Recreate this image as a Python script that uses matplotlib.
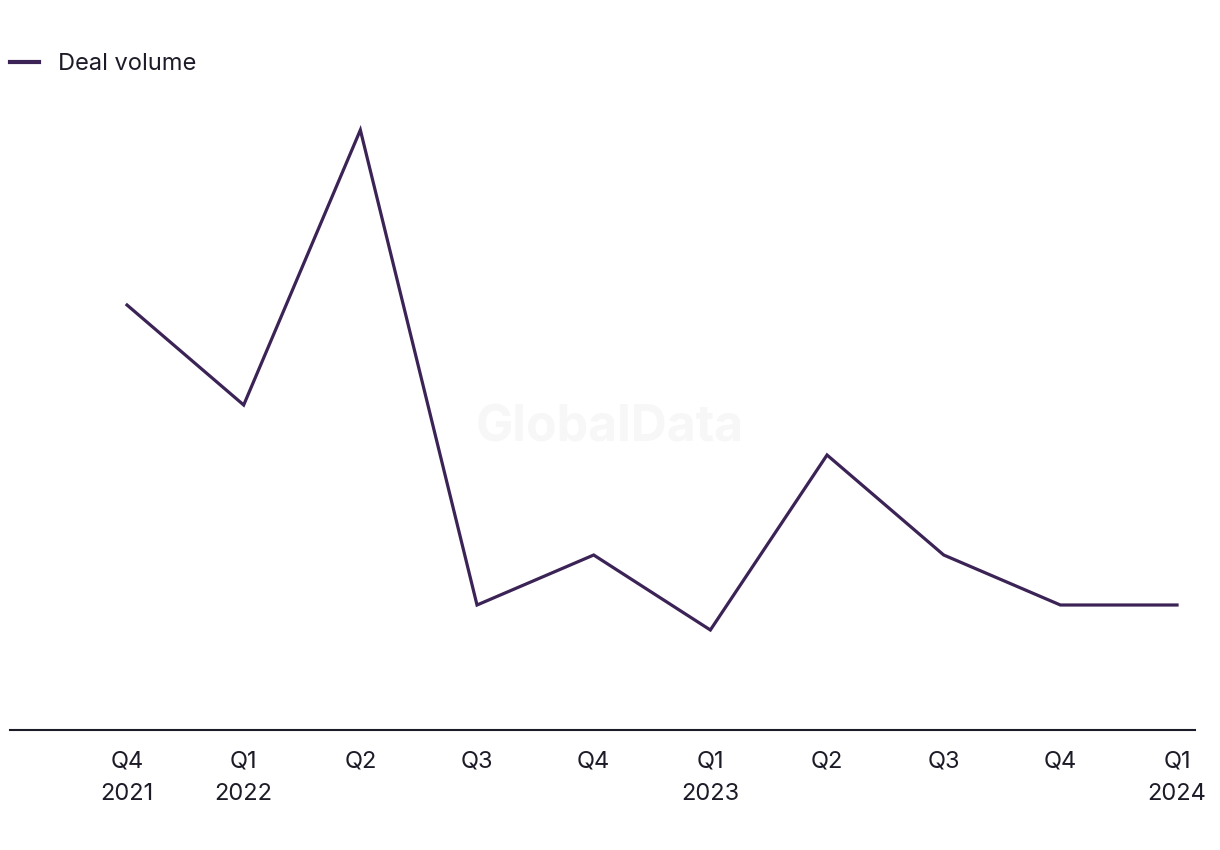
import matplotlib.pyplot as plt

quarters = ["Q4", "Q1", "Q2", "Q3", "Q4", "Q1", "Q2", "Q3", "Q4", "Q1"]
years = ["2021", "2022", "", "", "", "2023", "", "", "", "2024"]
deal_volume = [17, 13, 24, 5, 7, 4, 11, 7, 5, 5]

LINE_COLOR = "#3b2356"
TEXT_COLOR = "#1c1c28"


def main():
    plt.rcParams["font.family"] = ["Inter", "DejaVu Sans"]

    fig = plt.figure(figsize=(12.2, 8.5), dpi=100)
    ax = fig.add_axes([10 / 1220, 1 - 730 / 850, 1185 / 1220, 630 / 850])

    x = list(range(len(deal_volume)))
    ax.plot(x, deal_volume, color=LINE_COLOR, linewidth=2.3,
            solid_joinstyle="miter", label="Deal volume")

    ax.set_xlim(-1.003, 9.154)
    ax.set_ylim(0, 25.2)

    labels = [f"{q}\n{y}" if y else q for q, y in zip(quarters, years)]
    ax.set_xticks(x)
    ax.set_xticklabels(labels, fontsize=17, color=TEXT_COLOR,
                       va="top", linespacing=1.6)
    ax.tick_params(axis="x", length=0, pad=15)
    ax.set_yticks([])

    for side in ["top", "right", "left"]:
        ax.spines[side].set_visible(False)
    ax.spines["bottom"].set_color(TEXT_COLOR)
    ax.spines["bottom"].set_linewidth(1.5)

    # faint watermark
    ax.text(0.5063, 0.48, "GlobalData", transform=ax.transAxes,
            ha="center", va="center", fontsize=36, fontweight="bold",
            color="#f7f7f8", zorder=0)

    leg = fig.legend(loc="upper left", bbox_to_anchor=(10 / 1220, 1 - 53 / 850),
                     frameon=False, fontsize=17, handlelength=1.23,
                     handletextpad=0.8, borderaxespad=0, borderpad=0,
                     labelcolor=TEXT_COLOR)
    for h in leg.legend_handles:
        h.set_linewidth(3)

    fig.savefig("out.png", dpi=100)
    plt.close(fig)


if __name__ == "__main__":
    main()
